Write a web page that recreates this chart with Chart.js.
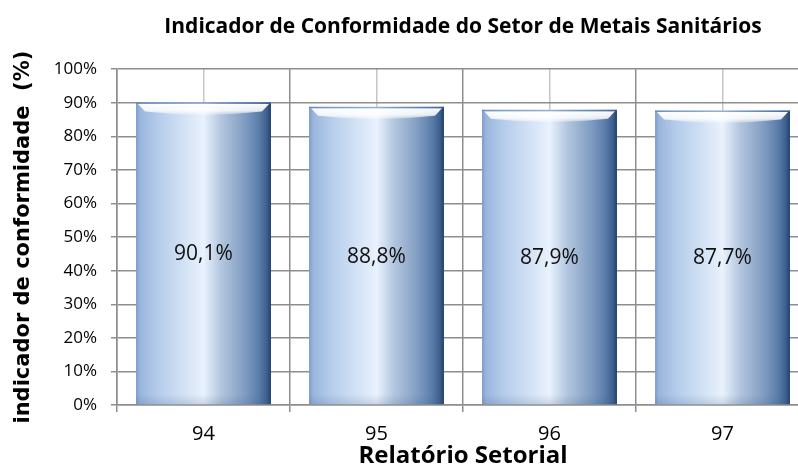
<!DOCTYPE html>
<html>
<head>
<meta charset="utf-8">
<script src="https://cdn.jsdelivr.net/npm/chart.js@4/dist/chart.umd.min.js"></script>
<style>
  html, body { margin: 0; padding: 0; overflow: hidden; background: #fff; }
  #wrap { width: 926px; height: 468px; }
</style>
</head>
<body>
<div id="wrap"><canvas id="chart"></canvas></div>
<script>
// Chart data
const categories = ["94", "95", "96", "97"];
const conformidade = [90.1, 88.8, 87.9, 87.7];
const yMin = 0;
const yMax = 100;
const yStep = 10;

const chartTitle = "Indicador de Conformidade do Setor de Metais Sanitários";
const xTitle = "Relatório Setorial";
const yTitle = "indicador de conformidade  (%)";

const GRID = "#8e8e8e";
const GRID_LIGHT = "#c6c6c6";
const BAR_PCT = 0.78;

// Horizontal "cylinder" gradient, one per bar
function barFill(c) {
  const chart = c.chart;
  const xs = chart.scales.x;
  if (!xs || c.dataIndex === undefined || !isFinite(xs.width)) return "#b0c6e4";
  const cx = xs.getPixelForValue(c.dataIndex);
  const half = xs.width / categories.length * BAR_PCT / 2;
  const g = chart.ctx.createLinearGradient(cx - half, 0, cx + half, 0);
  g.addColorStop(0.00, "#7e9ccb");
  g.addColorStop(0.03, "#9ab5dd");
  g.addColorStop(0.15, "#b3cbea");
  g.addColorStop(0.30, "#cadcf2");
  g.addColorStop(0.45, "#e1ecfa");
  g.addColorStop(0.50, "#e9f2fd");
  g.addColorStop(0.56, "#d0def0");
  g.addColorStop(0.63, "#b3c6de");
  g.addColorStop(0.73, "#97afce");
  g.addColorStop(0.83, "#7896bd");
  g.addColorStop(0.91, "#5c7daa");
  g.addColorStop(0.97, "#3d5f8e");
  g.addColorStop(1.00, "#213f69");
  return g;
}

// Top bevel highlight + value labels inside the bars
const barDecor = {
  id: "barDecor",
  afterDatasetsDraw(chart) {
    const ctx = chart.ctx;
    const meta = chart.getDatasetMeta(0);
    meta.data.forEach((el, i) => {
      const left = el.x - el.width / 2;
      const right = el.x + el.width / 2;
      const top = el.y;
      const bev = 9;
      ctx.save();
      // white bevel band with a slightly curved lower edge
      let g = ctx.createLinearGradient(0, top + 1, 0, top + bev + 5);
      g.addColorStop(0, "rgba(255,255,255,0.98)");
      g.addColorStop(0.55, "rgba(255,255,255,0.85)");
      g.addColorStop(1, "rgba(255,255,255,0)");
      ctx.beginPath();
      ctx.moveTo(left + 2, top + 1.5);
      ctx.lineTo(right - 2, top + 1.5);
      ctx.lineTo(right - bev, top + bev);
      ctx.quadraticCurveTo(el.x, top + bev + 7, left + bev, top + bev);
      ctx.closePath();
      ctx.fillStyle = g;
      ctx.fill();
      // top edge
      ctx.fillStyle = "rgba(70,110,170,0.5)";
      ctx.fillRect(left, top, right - left, 1.5);
      // slight shade at the base
      g = ctx.createLinearGradient(0, el.base - 10, 0, el.base);
      g.addColorStop(0, "rgba(60,90,130,0)");
      g.addColorStop(1, "rgba(60,90,130,0.18)");
      ctx.fillStyle = g;
      ctx.fillRect(left, el.base - 10, right - left, 10);
      // value label
      ctx.fillStyle = "#111";
      ctx.font = "21px 'Open Sans'";
      ctx.textAlign = "center";
      ctx.textBaseline = "middle";
      const txt = conformidade[i].toFixed(1).replace(".", ",") + "%";
      ctx.fillText(txt, el.x, (el.y + el.base) / 2 + 1);
      ctx.restore();
    });
  }
};

new Chart(document.getElementById("chart"), {
  type: "bar",
  data: {
    labels: categories,
    datasets: [{
      label: "Indicador",
      data: conformidade,
      backgroundColor: barFill,
      borderWidth: 0,
      categoryPercentage: BAR_PCT,
      barPercentage: 1
    }]
  },
  options: {
    responsive: true,
    maintainAspectRatio: false,
    animation: false,
    layout: { padding: { left: 0, right: 117, top: 0, bottom: 0 } },
    plugins: {
      legend: { display: false },
      tooltip: { enabled: false },
      title: {
        display: true,
        fullSize: false,
        text: chartTitle,
        color: "#000",
        font: { family: "'Open Sans'", size: 21, weight: "bold", lineHeight: 1.2 },
        padding: { top: 14, bottom: 30 }
      }
    },
    scales: {
      x: {
        type: "category",
        offset: true,
        grid: { offset: true, color: GRID, lineWidth: 1.5, tickLength: 7, tickColor: GRID },
        border: { color: GRID, width: 1.5 },
        ticks: { color: "#000", padding: 10, font: { family: "'Open Sans'", size: 20 } },
        title: {
          display: true,
          text: xTitle,
          color: "#000",
          padding: { top: 0, bottom: 0 },
          font: { family: "'Open Sans'", size: 24, weight: "bold", lineHeight: 1 }
        },
        afterFit(s) { s.height = 63; }
      },
      x2: {
        type: "category",
        position: "top",
        offset: true,
        grid: { offset: false, color: GRID_LIGHT, lineWidth: 1.5, drawTicks: false },
        border: { display: false },
        ticks: { display: false },
        afterFit(s) { s.height = 0; }
      },
      y: {
        min: yMin,
        max: yMax,
        grid: { color: GRID, lineWidth: 1.5, tickLength: 6, tickColor: GRID },
        border: { color: GRID, width: 1.5 },
        ticks: {
          stepSize: yStep,
          color: "#000",
          padding: 14,
          font: { family: "'Open Sans'", size: 17 },
          callback: v => v + "%"
        },
        title: {
          display: true,
          text: yTitle,
          color: "#000",
          padding: { top: 11, bottom: 0 },
          font: { family: "'DejaVu Sans'", size: 21, weight: "bold", lineHeight: 1.2 }
        },
        afterFit(s) { s.width = 117; }
      }
    }
  },
  plugins: [barDecor]
});
</script>
</body>
</html>
